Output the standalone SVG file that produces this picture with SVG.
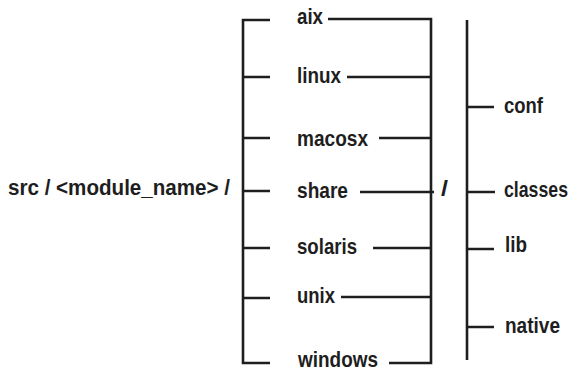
<svg xmlns="http://www.w3.org/2000/svg" width="574" height="371" viewBox="0 0 574 371">
<style>
text{font-family:"Liberation Sans",Arial,sans-serif;font-weight:bold;font-size:22.5px;fill:#1e1e1e}
.c{fill:none;stroke:#1e1e1e;stroke-width:2.6;stroke-linecap:butt;stroke-linejoin:miter}
</style>
<rect width="574" height="371" fill="#fff"/>
<g id="connectors" class="c">
<path d="M270,20 H243 V363 H270"/>
<path d="M243,77 H270 M243,138 H270 M243,191 H270 M243,248 H270 M243,298 H270"/>
<path d="M328,19 H431 V363 H389"/>
<path d="M347,77 H431 M379,138 H431 M360,192 H434 M373,248 H431 M341,297 H431"/>
<path d="M467,20 V360"/>
<path d="M467,107 H494 M467,192 H495 M467,249 H494 M467,327 H494"/>
</g>
<g id="root"><text x="8" y="195" textLength="222" lengthAdjust="spacingAndGlyphs">src / &lt;module_name&gt; /</text></g>
<g id="aix"><text x="297" y="24" textLength="26" lengthAdjust="spacingAndGlyphs">aix</text></g>
<g id="linux"><text x="297" y="83" textLength="44" lengthAdjust="spacingAndGlyphs">linux</text></g>
<g id="macosx"><text x="297" y="146" textLength="71" lengthAdjust="spacingAndGlyphs">macosx</text></g>
<g id="share"><text x="297" y="198" textLength="51" lengthAdjust="spacingAndGlyphs">share</text></g>
<g id="solaris"><text x="297" y="254" textLength="60" lengthAdjust="spacingAndGlyphs">solaris</text></g>
<g id="unix"><text x="297" y="303" textLength="38" lengthAdjust="spacingAndGlyphs">unix</text></g>
<g id="windows"><text x="298" y="367" textLength="80" lengthAdjust="spacingAndGlyphs">windows</text></g>
<g id="slash"><text x="441" y="196" textLength="7" lengthAdjust="spacingAndGlyphs">/</text></g>
<g id="conf"><text x="504" y="113" textLength="39" lengthAdjust="spacingAndGlyphs">conf</text></g>
<g id="classes"><text transform="translate(504,197) scale(0.787,1)" x="0" y="0">classes</text></g>
<g id="lib"><text x="505" y="252" textLength="22" lengthAdjust="spacingAndGlyphs">lib</text></g>
<g id="native"><text x="505" y="333" textLength="55" lengthAdjust="spacingAndGlyphs">native</text></g>
</svg>
